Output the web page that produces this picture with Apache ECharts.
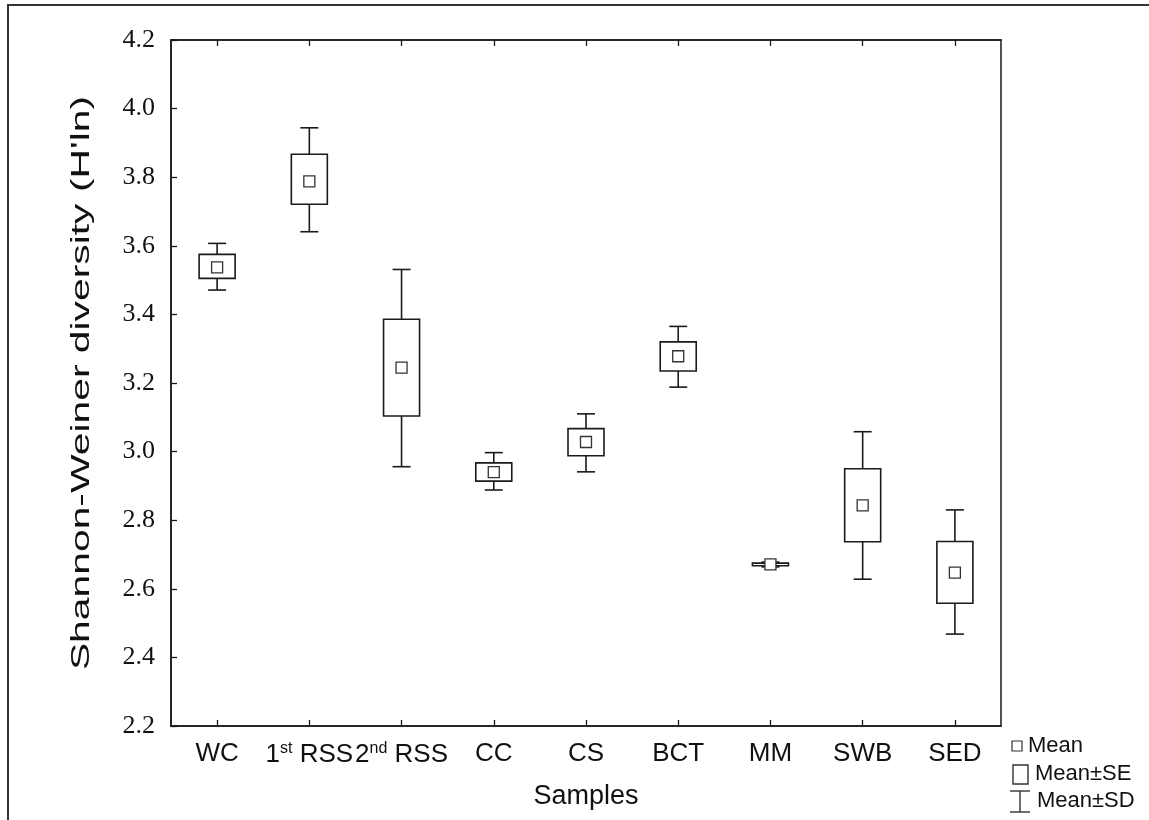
<!DOCTYPE html>
<html>
<head>
<meta charset="utf-8">
<script src="https://cdn.jsdelivr.net/npm/echarts@6/dist/echarts.min.js"></script>
<style>
html,body{margin:0;padding:0;background:#fff;}
#chart{width:1149px;height:820px;}
</style>
</head>
<body>
<div id="chart"></div>
<script>
const categories = ['WC', '1st RSS', '2nd RSS', 'CC', 'CS', 'BCT', 'MM', 'SWB', 'SED'];
const means  = [3.537, 3.788, 3.245, 2.940, 3.028, 3.278, 2.671, 2.843, 2.647];
const seHigh = [3.575, 3.867, 3.386, 2.967, 3.067, 3.320, 2.675, 2.950, 2.738];
const seLow  = [3.505, 3.721, 3.104, 2.914, 2.988, 3.235, 2.667, 2.737, 2.558];
const sdHigh = [3.607, 3.944, 3.531, 2.997, 3.110, 3.365, 2.678, 3.058, 2.830];
const sdLow  = [3.471, 3.641, 2.956, 2.888, 2.941, 3.188, 2.664, 2.628, 2.468];
const yTicks = ['2.2','2.4','2.6','2.8','3.0','3.2','3.4','3.6','3.8','4.0','4.2'];
const legendItems = ['Mean', 'Mean\u00B1SE', 'Mean\u00B1SD'];
const yTitle = "Shannon-Weiner diversity (H'ln)";
const xTitle = 'Samples';

const INK = '#1a1a1a';
const data = categories.map((c, i) => [i, sdLow[i], seLow[i], means[i], seHigh[i], sdHigh[i]]);

function renderItem(params, api) {
  const i = api.value(0);
  const p = v => api.coord([i, v]);
  const x = p(api.value(3))[0];
  const yM = p(api.value(3))[1];
  const ySdL = p(api.value(1))[1], ySeL = p(api.value(2))[1];
  const ySeH = p(api.value(4))[1], ySdH = p(api.value(5))[1];
  const bw = 36, cw = 18, ms = 11;
  const st = {stroke: INK, lineWidth: 1.6, fill: null};
  return {
    type: 'group',
    children: [
      {type: 'line', shape: {x1: x, y1: ySdH, x2: x, y2: ySeH}, style: st},
      {type: 'line', shape: {x1: x, y1: ySeL, x2: x, y2: ySdL}, style: st},
      {type: 'line', shape: {x1: x - cw/2, y1: ySdH, x2: x + cw/2, y2: ySdH}, style: st},
      {type: 'line', shape: {x1: x - cw/2, y1: ySdL, x2: x + cw/2, y2: ySdL}, style: st},
      {type: 'rect', shape: {x: x - bw/2, y: Math.min(ySeH, ySeL), width: bw, height: Math.abs(ySeL - ySeH)}, style: {stroke: INK, lineWidth: 1.6, fill: 'rgba(255,255,255,0)'}},
      {type: 'rect', shape: {x: x - ms/2, y: yM - ms/2, width: ms, height: ms}, style: {stroke: '#333', lineWidth: 1.3, fill: '#fff'}}
    ]
  };
}

const catFormatter = v => v.replace(/^(\d)(st|nd)/, '$1{sup|$2}');
const labelFont = '"Liberation Sans", Arial, sans-serif';

const chart = echarts.init(document.getElementById('chart'), null, {renderer: 'canvas'});
chart.setOption({
  backgroundColor: '#fff',
  animation: false,
  grid: {left: 171, right: 148, top: 40, bottom: 94, show: true, borderColor: INK, borderWidth: 1.5, backgroundColor: 'transparent'},
  xAxis: [{
    type: 'category', data: categories, position: 'bottom',
    axisLine: {show: true, lineStyle: {color: INK, width: 1.5}},
    axisTick: {show: true, inside: true, alignWithLabel: true, length: 6, lineStyle: {color: INK, width: 1.3}},
    axisLabel: {
      interval: 0, hideOverlap: false,
      margin: 15, color: '#111', fontFamily: labelFont, fontSize: 26,
      formatter: catFormatter,
      rich: {sup: {fontSize: 16, fontFamily: labelFont, color: '#111', padding: [0, 0, 12, 0]}}
    },
    splitLine: {show: false},
    name: xTitle, nameLocation: 'middle', nameGap: 57,
    nameTextStyle: {fontFamily: labelFont, fontSize: 27, color: '#111'}
  }, {
    type: 'category', data: categories, position: 'top',
    axisLine: {show: true, lineStyle: {color: INK, width: 1.5}},
    axisTick: {show: true, inside: true, alignWithLabel: true, length: 6, lineStyle: {color: INK, width: 1.3}},
    axisLabel: {show: false}, splitLine: {show: false}
  }],
  yAxis: {
    type: 'value', min: 2.2, max: 4.2, interval: 0.2,
    axisLine: {show: true, lineStyle: {color: INK, width: 1.5}},
    axisTick: {show: true, inside: true, length: 6, lineStyle: {color: INK, width: 1.3}},
    axisLabel: {margin: 16, color: '#111', fontFamily: '"Liberation Serif", "Times New Roman", serif', fontSize: 26,
      formatter: v => { const s = v.toFixed(1); return yTicks.indexOf(s) >= 0 ? s : ''; }},
    splitLine: {show: false}
  },
  series: [{
    type: 'custom', renderItem: renderItem, data: data,
    encode: {x: 0, y: [1, 2, 3, 4, 5]}, clip: false, z: 5
  }],
  graphic: [
    {type: 'polyline', shape: {points: [[8, 820], [8, 5], [1149, 5]]}, style: {stroke: '#333', lineWidth: 2, fill: null}, silent: true},
    {type: 'text', x: 82, y: 383, rotation: Math.PI / 2, scaleX: 1.57, scaleY: 1,
      style: {text: yTitle, font: '26px "Liberation Sans", Arial, sans-serif', fill: '#111', align: 'center', verticalAlign: 'middle'}},
    {type: 'rect', shape: {x: 1012, y: 741, width: 10, height: 10}, style: {stroke: '#333', lineWidth: 1.2, fill: '#fff'}},
    {type: 'text', left: 1028, top: 735, style: {text: legendItems[0], font: '22px "Liberation Sans", Arial, sans-serif', fill: '#111'}},
    {type: 'rect', shape: {x: 1013, y: 765, width: 15, height: 19}, style: {stroke: '#333', lineWidth: 1.4, fill: '#fff'}},
    {type: 'text', left: 1035, top: 763, style: {text: legendItems[1], font: '22px "Liberation Sans", Arial, sans-serif', fill: '#111'}},
    {type: 'line', shape: {x1: 1010, y1: 791, x2: 1030, y2: 791}, style: {stroke: '#333', lineWidth: 1.4}},
    {type: 'line', shape: {x1: 1020, y1: 791, x2: 1020, y2: 812}, style: {stroke: '#333', lineWidth: 1.4}},
    {type: 'line', shape: {x1: 1010, y1: 812, x2: 1030, y2: 812}, style: {stroke: '#333', lineWidth: 1.4}},
    {type: 'text', left: 1037, top: 790, style: {text: legendItems[2], font: '22px "Liberation Sans", Arial, sans-serif', fill: '#111'}}
  ]
});
</script>
</body>
</html>
